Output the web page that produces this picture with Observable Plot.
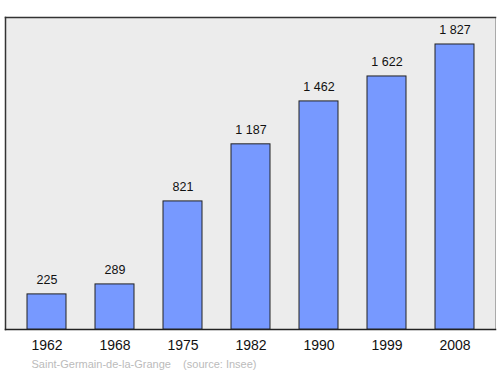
<!DOCTYPE html>
<html>
<head>
<meta charset="utf-8">
<script src="https://cdn.jsdelivr.net/npm/d3@7"></script>
<script src="https://cdn.jsdelivr.net/npm/@observablehq/plot@0.6"></script>
<style>
  html, body { margin: 0; padding: 0; background: #fff; }
  svg { font-family: "Liberation Sans", Arial, sans-serif; }
</style>
</head>
<body>
<div id="chart"></div>
<script>
const years = ["1962", "1968", "1975", "1982", "1990", "1999", "2008"];
const population = [225, 289, 821, 1187, 1462, 1622, 1827];
const caption = "Saint-Germain-de-la-Grange\u00a0\u00a0\u00a0\u00a0(source: Insee)";

const data = years.map((y, i) => ({year: y, value: population[i]}));
const fmt = v => d3.format(",")(v).replace(/,/g, "\u00a0");

const chart = Plot.plot({
  width: 500,
  height: 374,
  marginTop: 17,
  marginBottom: 45,
  marginLeft: 5,
  marginRight: 5,
  style: {fontFamily: '"Liberation Sans", Arial, sans-serif', background: "#fff"},
  x: {domain: years, paddingInner: 0.43, paddingOuter: 0.215, insetLeft: 6, insetRight: 5, label: null},
  y: {domain: [0, 2000], axis: null},
  marks: [
    Plot.frame({fill: "#ececec", stroke: "#aaa"}),
    Plot.frame({anchor: "top", stroke: "#333", strokeWidth: 1.5}),
    Plot.frame({anchor: "left", stroke: "#333", strokeWidth: 1.5}),
    Plot.frame({anchor: "bottom", stroke: "#222", strokeWidth: 1.5}),
    Plot.barY(data, {x: "year", y: "value", fill: "#7799ff", stroke: "#222", strokeWidth: 1}),
    Plot.text(data, {x: "year", y: "value", text: d => fmt(d.value), dy: -14, fontSize: 12.5, fill: "#111"}),
    Plot.axisX({tickSize: 0, tickPadding: 11, fontSize: 14, color: "#111", label: null}),
    Plot.text([caption], {frameAnchor: "bottom-left", text: d => d, dx: 26, dy: 38, textAnchor: "start", fontSize: 11, fill: "#bbb"})
  ]
});
document.getElementById("chart").appendChild(chart);
</script>
</body>
</html>
